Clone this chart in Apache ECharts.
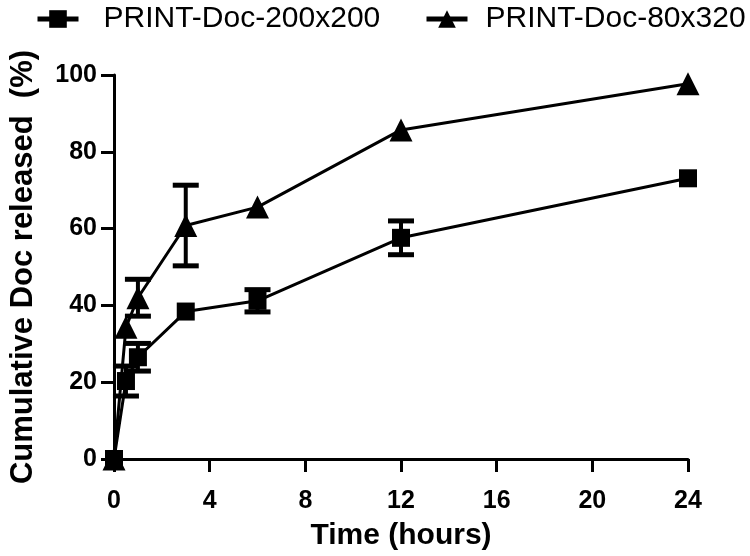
<!DOCTYPE html>
<html>
<head>
<meta charset="utf-8">
<script src="https://cdn.jsdelivr.net/npm/echarts@6/dist/echarts.min.js"></script>
<style>
  html, body { margin: 0; padding: 0; background: #fff; }
  #chart { width: 750px; height: 556px; }
</style>
</head>
<body>
<div id="chart"></div>
<script>
// 时间点 (hours)
const hours = [0, 0.5, 1, 3, 6, 12, 24];
const seriesNames = ['PRINT-Doc-200x200', 'PRINT-Doc-80x320'];
// 平均释放量 (%)
const doc200 = [0, 20.3, 26.5, 38.4, 41.2, 57.6, 73.1];
const doc80 = [0, 34.3, 42, 60.8, 65.6, 85.7, 97.7];
// 误差 (SD), 0 = 被标记遮住
const doc200Err = [0, 3.9, 3.6, 0, 2.9, 4.4, 0];
const doc80Err = [0, 0, 4.8, 10.5, 0, 0, 0];
const xTicks = [0, 4, 8, 12, 16, 20, 24];
const yTicks = [0, 20, 40, 60, 80, 100];

const FONT = '"Liberation Sans", Arial, sans-serif';

const pairs = (ys) => hours.map((h, i) => [h, ys[i]]);
const errRows = (ys, es) => hours
    .map((h, i) => [h, ys[i] - es[i], ys[i] + es[i]])
    .filter(r => r[2] > r[1]);

const renderErr = (params, api) => {
    const x = api.value(0);
    const lo = api.coord([x, api.value(1)]);
    const hi = api.coord([x, api.value(2)]);
    const half = 13;
    const cap = { stroke: '#000', lineWidth: 5 };
    return {
        type: 'group',
        children: [
            { type: 'line', shape: { x1: lo[0], y1: lo[1], x2: hi[0], y2: hi[1] }, style: { stroke: '#000', lineWidth: 4 } },
            { type: 'line', shape: { x1: lo[0] - half, y1: lo[1], x2: lo[0] + half, y2: lo[1] }, style: cap },
            { type: 'line', shape: { x1: hi[0] - half, y1: hi[1], x2: hi[0] + half, y2: hi[1] }, style: cap },
        ],
    };
};

const lineSeries = (name, ys, symbol, size) => ({
    name,
    type: 'line',
    data: pairs(ys),
    symbol,
    symbolSize: size,
    z: 3,
    lineStyle: { color: '#000', width: 3 },
    itemStyle: { color: '#000' },
    emphasis: { disabled: true },
});

const errSeries = (ys, es) => ({
    type: 'custom',
    data: errRows(ys, es),
    renderItem: renderErr,
    encode: { x: 0, y: [1, 2] },
    z: 2,
    silent: true,
});

// 两个图例分开放, 避免换行
const legendAt = (name, left, textPad) => ({
    left,
    top: 4,
    padding: 0,
    itemWidth: 41,
    itemHeight: 22,
    selectedMode: false,
    data: [name],
    lineStyle: { width: 5 },
    textStyle: { fontFamily: FONT, fontSize: 30, color: '#000', padding: [0, 0, 0, textPad] },
});

const chart = echarts.init(document.getElementById('chart'), null, { renderer: 'canvas' });
chart.setOption({
    animation: false,
    backgroundColor: '#fff',
    legend: [legendAt(seriesNames[0], 35, 20), legendAt(seriesNames[1], 424, 13)],
    grid: { left: 112, right: 62, top: 75, bottom: 96 },
    xAxis: {
        type: 'value',
        min: 0,
        max: 24,
        interval: 4,
        name: 'Time (hours)',
        nameLocation: 'middle',
        nameGap: 62,
        nameTextStyle: { fontFamily: FONT, fontSize: 30, fontWeight: 'bold', color: '#000' },
        axisLine: { lineStyle: { color: '#000', width: 3 } },
        axisTick: { length: 13, lineStyle: { color: '#000', width: 3 } },
        axisLabel: {
            margin: 30,
            fontFamily: FONT, fontSize: 25, fontWeight: 'bold', color: '#000',
            customValues: xTicks,
        },
        splitLine: { show: false },
    },
    yAxis: {
        type: 'value',
        min: 0,
        max: 100,
        interval: 20,
        name: 'Cumulative Doc released  (%)',
        nameLocation: 'middle',
        nameGap: 75,
        nameTextStyle: { fontFamily: FONT, fontSize: 31, fontWeight: 'bold', color: '#000' },
        axisLine: { show: true, lineStyle: { color: '#000', width: 3 } },
        axisTick: { show: true, length: 13, lineStyle: { color: '#000', width: 3 } },
        axisLabel: {
            margin: 17,
            fontFamily: FONT, fontSize: 25, fontWeight: 'bold', color: '#000',
            customValues: yTicks,
        },
        splitLine: { show: false },
    },
    series: [
        errSeries(doc200, doc200Err),
        errSeries(doc80, doc80Err),
        lineSeries(seriesNames[0], doc200, 'rect', 18),
        lineSeries(seriesNames[1], doc80, 'triangle', 23),
    ],
});
</script>
</body>
</html>
